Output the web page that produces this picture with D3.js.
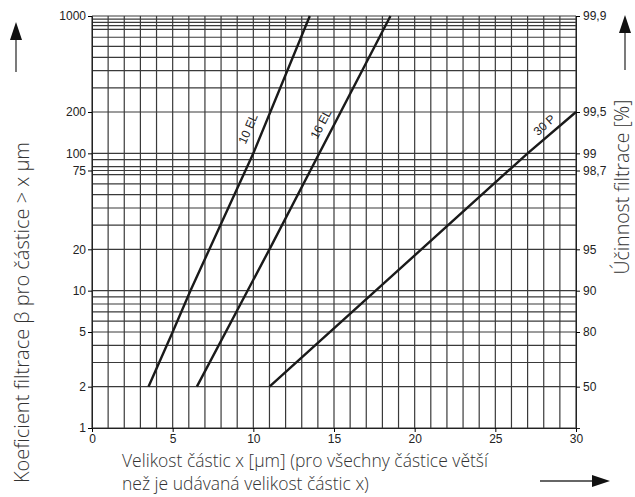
<!DOCTYPE html>
<html>
<head>
<meta charset="utf-8">
<script src="https://cdn.jsdelivr.net/npm/d3@7"></script>
<style>
  body { margin: 0; background: #fff; }
  svg { display: block; }
  .tick-label { font-family: "Liberation Sans", Arial, sans-serif; font-size: 12px; fill: #222; }
  .title { font-family: "Open Sans", sans-serif; font-weight: 300; fill: #333; }
  .curve-label { font-family: "Liberation Sans", Arial, sans-serif; font-size: 12px; fill: #222; }
</style>
</head>
<body>
<svg id="chart" width="635" height="497"></svg>
<script>
// x ticks (particle size, µm)
const xLabels = [0, 5, 10, 15, 20, 25, 30]
// beta grid lines per decade
const betaGrid = [1, 2, 3, 4, 5, 6, 7, 8, 9, 10, 20, 30, 40, 50, 60, 70, 75, 80, 90, 100,
    200, 300, 400, 500, 600, 700, 800, 850, 900, 950, 1000]
const leftLabels = [1, 2, 5, 10, 20, 75, 100, 200, 1000]
// efficiency labels on the right, with the beta they sit at
const rightBeta = [2, 5, 10, 20, 75, 100, 200, 1000]
const rightText = ['50', '80', '90', '95', '98,7', '99', '99,5', '99,9']

// curves: [x, beta]
const curve10EL = [[3.5, 2], [5, 5], [6.1, 10], [10, 100], [13.5, 1000]]
const curve16EL = [[6.5, 2], [11, 20], [18.5, 1000]]
const curve30P = [[11, 2], [27, 100], [30, 200]]
const curves = [
    { name: '10 EL', pts: curve10EL, at: [10.3, 140] },
    { name: '16 EL', pts: curve16EL, at: [14.8, 150] },
    { name: '30 P', pts: curve30P, at: [28.5, 140] }
]

const svg = d3.select('#chart')
const plot = { left: 92, right: 576, top: 16, bottom: 428 }

var x = d3.scaleLinear().domain([0, 30]).range([plot.left, plot.right])
var y = d3.scaleLog().domain([1, 1000]).range([plot.bottom, plot.top])

// vertical grid, one per µm
svg.append('g')
    .selectAll('line')
    .data(d3.range(0, 31))
    .join('line')
    .attr('x1', d => x(d)).attr('x2', d => x(d))
    .attr('y1', plot.top).attr('y2', plot.bottom)
    .attr('stroke', '#3a3a3a')
    .attr('stroke-width', 1.2)

// horizontal grid
svg.append('g')
    .selectAll('line')
    .data(betaGrid)
    .join('line')
    .attr('x1', plot.left).attr('x2', plot.right)
    .attr('y1', d => y(d)).attr('y2', d => y(d))
    .attr('stroke', '#3a3a3a')
    .attr('stroke-width', 1.2)

// bottom axis
const xAxis = svg.append('g')
    .attr('transform', `translate(0,${plot.bottom})`)
    .call(d3.axisBottom(x).tickValues(xLabels).tickSize(4).tickPadding(2).tickFormat(d3.format('d')))
xAxis.select('.domain').attr('stroke', '#222')
xAxis.selectAll('text').attr('class', 'tick-label').attr('font-family', null).attr('font-size', null)

// left axis
const yAxis = svg.append('g')
    .attr('transform', `translate(${plot.left},0)`)
    .call(d3.axisLeft(y).tickValues(leftLabels).tickSize(4).tickPadding(2).tickFormat(d3.format('d')))
yAxis.select('.domain').attr('stroke', '#222')
yAxis.selectAll('text').attr('class', 'tick-label').attr('font-family', null).attr('font-size', null)

// right axis (efficiency %)
const rAxis = svg.append('g')
    .attr('transform', `translate(${plot.right},0)`)
    .call(d3.axisRight(y).tickValues(rightBeta).tickSize(4).tickPadding(3)
        .tickFormat((d, i) => rightText[i]))
rAxis.select('.domain').attr('stroke', '#222')
rAxis.selectAll('text').attr('class', 'tick-label').attr('font-family', null).attr('font-size', null)

// curves
const line = d3.line().x(d => x(d[0])).y(d => y(d[1]))
svg.append('g')
    .selectAll('path')
    .data(curves)
    .join('path')
    .attr('d', d => line(d.pts))
    .attr('fill', 'none')
    .attr('stroke', '#1a1a1a')
    .attr('stroke-width', 2.4)

// curve labels rotated along the line
curves.forEach(c => {
    let p0 = c.pts[0], p1 = c.pts[c.pts.length - 1]
    let ang = Math.atan2(y(p1[1]) - y(p0[1]), x(p1[0]) - x(p0[0])) * 180 / Math.PI
    svg.append('text')
        .attr('class', 'curve-label')
        .attr('text-anchor', 'middle')
        .attr('transform', `translate(${x(c.at[0])},${y(c.at[1])}) rotate(${ang}) translate(0,-7)`)
        .text(c.name)
})

// axis titles
svg.append('text')
    .attr('class', 'title')
    .attr('font-size', 20)
    .attr('transform', 'translate(29,483) rotate(-90)')
    .text('Koeficient filtrace β pro částice > x µm')

svg.append('text')
    .attr('class', 'title')
    .attr('font-size', 19.5)
    .attr('text-anchor', 'middle')
    .attr('transform', 'translate(629,187) rotate(-90)')
    .text('Účinnost filtrace [%]')

svg.append('text')
    .attr('class', 'title')
    .attr('font-size', 17.5)
    .attr('x', 122).attr('y', 467)
    .text('Velikost částic x [µm] (pro všechny částice větší')
svg.append('text')
    .attr('class', 'title')
    .attr('font-size', 17.5)
    .attr('x', 122).attr('y', 490)
    .text('než je udávaná velikost částic x)')

// arrows
function arrow(x1, y1, x2, y2) {
    let a = Math.atan2(y2 - y1, x2 - x1)
    let len = 18, w = 6
    let bx = x2 - len * Math.cos(a), by = y2 - len * Math.sin(a)
    svg.append('line')
        .attr('x1', x1).attr('y1', y1).attr('x2', bx).attr('y2', by)
        .attr('stroke', '#333').attr('stroke-width', 1.3)
    svg.append('path')
        .attr('d', `M${x2},${y2}L${bx - w * Math.sin(a)},${by + w * Math.cos(a)}L${bx + w * Math.sin(a)},${by - w * Math.cos(a)}Z`)
        .attr('fill', '#111')
}
arrow(16, 72, 16, 22)
arrow(625, 70, 625, 15)
arrow(540, 481, 610, 481)
</script>
</body>
</html>
